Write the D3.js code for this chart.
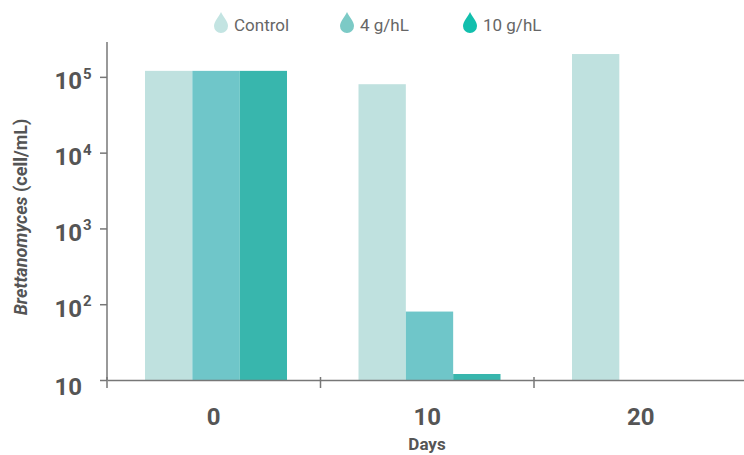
<!DOCTYPE html>
<html>
<head>
<meta charset="utf-8">
<script src="https://cdn.jsdelivr.net/npm/d3@7"></script>
<style>
  body { margin: 0; background: #fff; }
  svg text { font-family: "Roboto", sans-serif; }
</style>
</head>
<body>
<div id="chart"></div>
<script>
const days = ["0", "10", "20"];
const series = ["Control", "4 g/hL", "10 g/hL"];
const control = [120000, 80000, 200000];
const dose4 = [120000, 80, null];
const dose10 = [120000, 12, null];
const yTicks = [10, 100, 1000, 10000, 100000];

const barColors = ["#bfe1df", "#6fc6c9", "#38b6ad"];
const dropColors = ["#c3e4e2", "#7ccac6", "#12bfad"];

const width = 744, height = 455;

const svg = d3.select("#chart").append("svg")
  .attr("width", width)
  .attr("height", height);

const x = d3.scaleBand().domain(days).range([107, 747.5]);
const xIn = d3.scaleBand().domain(series).range([38, x.bandwidth() - 33.5]);
const y = d3.scaleLog().domain([10, Math.pow(10, 5.46)]).range([380, 42]);

const rows = days.map((d, i) => ({
  day: d,
  values: [control[i], dose4[i], dose10[i]]
}));

// bars
const g = svg.selectAll("g.day")
  .data(rows)
  .enter().append("g")
  .attr("class", "day")
  .attr("transform", d => `translate(${x(d.day)},0)`);

g.selectAll("rect")
  .data(d => d.values.map((v, j) => ({ key: series[j], value: v, j })).filter(e => e.value != null))
  .enter().append("rect")
  .attr("x", d => xIn(d.key))
  .attr("width", xIn.bandwidth())
  .attr("y", d => y(d.value))
  .attr("height", d => y(10) - y(d.value))
  .attr("fill", d => barColors[d.j]);

// axes
const axisColor = "#777";
const yAxis = svg.append("g")
  .attr("transform", "translate(107,0)")
  .call(d3.axisLeft(y).tickValues(yTicks).tickSize(7).tickFormat(""));
yAxis.select(".domain").attr("stroke", axisColor).attr("stroke-width", 1.5)
  .attr("d", `M0,${y.range()[1]}V380`);
yAxis.selectAll(".tick line").attr("stroke", axisColor).attr("stroke-width", 1.5);

// tick labels: "10" plus superscript exponent
yAxis.selectAll(".tick").append("text")
  .attr("x", -25)
  .attr("dy", d => d === 10 ? "0.62em" : "0.5em")
  .attr("text-anchor", "end")
  .attr("fill", "#555")
  .style("font-size", "24px")
  .style("font-weight", "bold")
  .text("10");
yAxis.selectAll(".tick").filter(d => d > 10).append("text")
  .attr("x", -24)
  .attr("dy", "0.1em")
  .attr("text-anchor", "start")
  .attr("fill", "#555")
  .style("font-size", "15px")
  .style("font-weight", "bold")
  .text(d => Math.round(Math.log10(d)));

const xAxis = svg.append("g")
  .attr("transform", "translate(0,380)")
  .call(d3.axisBottom(x).tickValues([]).tickSizeOuter(0));
xAxis.select(".domain").attr("stroke", axisColor).attr("stroke-width", 1.5);
xAxis.selectAll(".sep")
  .data(days)
  .enter().append("line")
  .attr("class", "sep")
  .attr("x1", d => x(d)).attr("x2", d => x(d))
  .attr("y1", -3).attr("y2", 8)
  .attr("stroke", axisColor).attr("stroke-width", 1.5);
xAxis.selectAll(".lbl")
  .data(days)
  .enter().append("text")
  .attr("class", "lbl")
  .attr("x", d => x(d) + x.bandwidth() / 2)
  .attr("y", 45)
  .attr("text-anchor", "middle")
  .attr("fill", "#555")
  .style("font-size", "24px")
  .style("font-weight", "bold")
  .text(d => d);

svg.append("text")
  .attr("x", 427).attr("y", 450)
  .attr("text-anchor", "middle")
  .attr("fill", "#555")
  .style("font-size", "17px")
  .style("font-weight", "bold")
  .text("Days");

const yTitle = svg.append("text")
  .attr("transform", "translate(27,217) rotate(-90)")
  .attr("text-anchor", "middle")
  .attr("fill", "#555")
  .style("font-size", "18px")
  .style("font-weight", "bold");
yTitle.append("tspan").style("font-style", "italic").text("Brettanomyces");
yTitle.append("tspan").text(" (cell/mL)");

// legend
const legendX = [214, 340, 463];
const drop = "M7,0 C9,5 14,9 14,14 A7,7 0 0 1 0,14 C0,9 5,5 7,0 Z";
const lg = svg.selectAll("g.leg")
  .data(series)
  .enter().append("g")
  .attr("class", "leg")
  .attr("transform", (d, i) => `translate(${legendX[i]},12)`);
lg.append("path").attr("d", drop).attr("fill", (d, i) => dropColors[i]);
lg.append("text")
  .attr("x", 20).attr("y", 19)
  .attr("fill", "#666")
  .style("font-size", "17px")
  .text(d => d);
</script>
</body>
</html>
